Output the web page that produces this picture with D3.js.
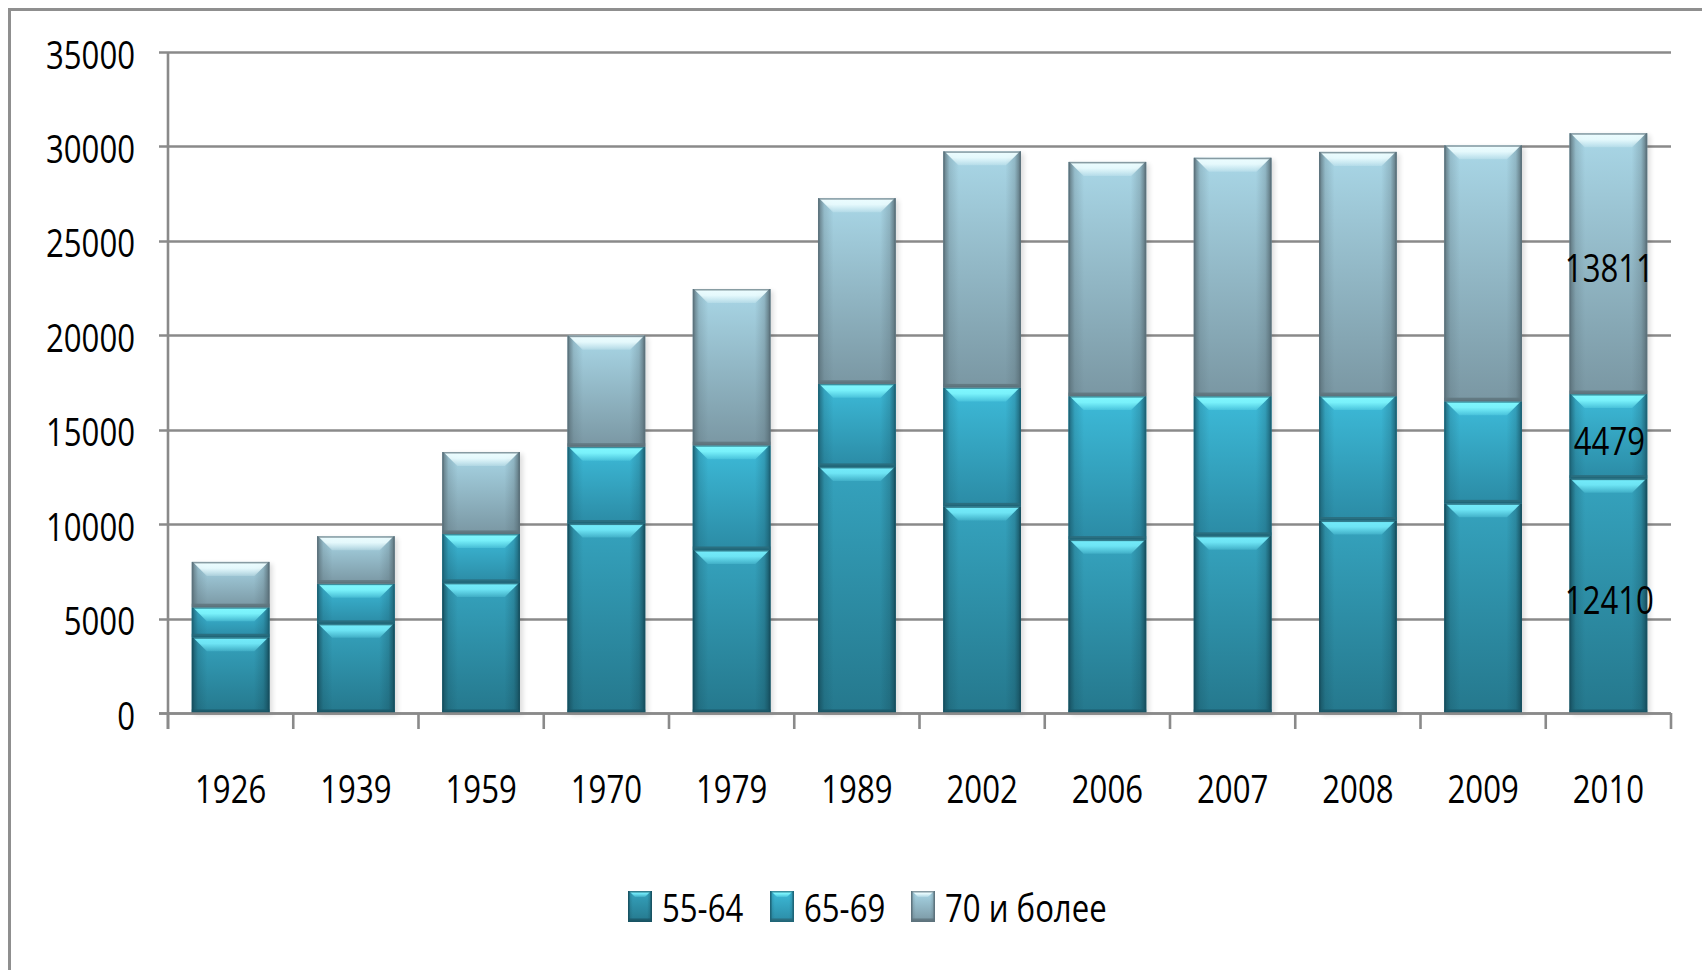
<!DOCTYPE html>
<html>
<head>
<meta charset="utf-8">
<script src="https://cdn.jsdelivr.net/npm/d3@7/dist/d3.min.js"></script>
<style>
  html, body { margin: 0; padding: 0; background: #ffffff; }
  svg { display: block; }
  text { font-family: "Open Sans", "Noto Sans", sans-serif; fill: #000; }
</style>
</head>
<body>
<svg id="chart" width="1702" height="970"></svg>
<script>
// Population by age group (thousands)
const years = ["1926", "1939", "1959", "1970", "1979", "1989", "2002", "2006", "2007", "2008", "2009", "2010"];
const age55to64 = [4010, 4720, 6890, 10030, 8630, 13030, 10940, 9180, 9380, 10190, 11100, 12410];
const age65to69 = [1590, 2130, 2590, 4070, 5550, 4400, 6300, 7600, 7400, 6590, 5410, 4479];
const age70plus = [2400, 2510, 4340, 5880, 8270, 9830, 12500, 12400, 12620, 12930, 13550, 13811];
const seriesNames = ["55-64", "65-69", "70 и более"];
const yTickValues = [0, 5000, 10000, 15000, 20000, 25000, 30000, 35000];
const labelledYear = "2010";

const W = 1702, H = 970;
const plot = { left: 168, right: 1671, top: 52, bottom: 713 };
const TEXT_SX = 0.82;   // narrow lettering
const FONT = 38;

const svg = d3.select("#chart");
svg.append("rect").attr("width", W).attr("height", H).attr("fill", "#fff");

// Visual styles for each age group: body gradient, bevel, edge
const palettes = [
  { top: "#35a3be", bottom: "#25788d", bevel: "#74ecfb", edge: "#17505f", line: "#1c5a6a" },
  { top: "#3dbbd9", bottom: "#2b8ba5", bevel: "#80f8ff", edge: "#1d6275", line: "#2a6b7c" },
  { top: "#a9d7e7", bottom: "#7a97a3", bevel: "#ecfdff", edge: "#5b717a", line: "#61777f" }
];

const defs = svg.append("defs");
palettes.forEach((p, i) => {
  const body = defs.append("linearGradient").attr("id", "body" + i)
    .attr("x1", 0).attr("y1", 0).attr("x2", 0).attr("y2", 1);
  body.append("stop").attr("offset", "0%").attr("stop-color", p.top);
  body.append("stop").attr("offset", "100%").attr("stop-color", p.bottom);

  const bev = defs.append("linearGradient").attr("id", "bevel" + i)
    .attr("x1", 0).attr("y1", 0).attr("x2", 0).attr("y2", 1);
  bev.append("stop").attr("offset", "0%").attr("stop-color", p.bevel).attr("stop-opacity", 1);
  bev.append("stop").attr("offset", "45%").attr("stop-color", p.bevel).attr("stop-opacity", 0.9);
  bev.append("stop").attr("offset", "100%").attr("stop-color", p.bevel).attr("stop-opacity", 0.2);

  const sides = defs.append("linearGradient").attr("id", "sides" + i)
    .attr("x1", 0).attr("y1", 0).attr("x2", 1).attr("y2", 0);
  sides.append("stop").attr("offset", "0%").attr("stop-color", p.edge).attr("stop-opacity", 0.95);
  sides.append("stop").attr("offset", "8%").attr("stop-color", p.edge).attr("stop-opacity", 0.25);
  sides.append("stop").attr("offset", "20%").attr("stop-color", p.edge).attr("stop-opacity", 0);
  sides.append("stop").attr("offset", "80%").attr("stop-color", p.edge).attr("stop-opacity", 0);
  sides.append("stop").attr("offset", "92%").attr("stop-color", p.edge).attr("stop-opacity", 0.3);
  sides.append("stop").attr("offset", "100%").attr("stop-color", p.edge).attr("stop-opacity", 1);
});
const shadowFilter = defs.append("filter").attr("id", "shadow")
  .attr("x", "-20%").attr("y", "-5%").attr("width", "140%").attr("height", "110%");
shadowFilter.append("feGaussianBlur").attr("stdDeviation", 2.5);

// Scales
const x = d3.scaleBand().domain(years).range([plot.left, plot.right])
  .paddingInner(0.38).paddingOuter(0.19);
const y = d3.scaleLinear().domain([0, 35000]).range([plot.bottom, plot.top]);

// Outer frame (left and top edges)
svg.append("path")
  .attr("d", `M9.5,${H} V9.5 H${W}`)
  .attr("fill", "none").attr("stroke", "#8f8f8f").attr("stroke-width", 3);

// Gridlines
svg.append("g").selectAll("line").data(yTickValues).join("line")
  .attr("x1", plot.left - 9).attr("x2", plot.right)
  .attr("y1", d => Math.round(y(d)) + 0.5).attr("y2", d => Math.round(y(d)) + 0.5)
  .attr("stroke", "#8a8a8a").attr("stroke-width", 2.6);

// Y axis labels
const yAxis = d3.axisLeft(y).tickValues(yTickValues).tickSize(0).tickFormat(d3.format("d"));
const yg = svg.append("g").attr("transform", `translate(${plot.left},0)`).call(yAxis);
yg.select(".domain").remove();
yg.selectAll("text")
  .attr("font-size", FONT).attr("font-family", "Open Sans, Noto Sans, sans-serif")
  .attr("fill", "#000")
  .attr("x", -33 / TEXT_SX).attr("dy", null).attr("y", 16)
  .attr("transform", `scale(${TEXT_SX},1)`);

// Stacked data
const rows = years.map((yr, i) => ({ year: yr, s0: age55to64[i], s1: age65to69[i], s2: age70plus[i] }));
const stack = d3.stack().keys(["s0", "s1", "s2"])(rows);

// Draw one bevelled box
function bevelBox(g, x0, y0, w, h, k, bevelDepth) {
  const b = Math.max(0, Math.min(bevelDepth, h / 2 - 1, w / 2));
  g.append("rect").attr("x", x0).attr("y", y0).attr("width", w).attr("height", h)
    .attr("fill", `url(#body${k})`);
  g.append("rect").attr("x", x0).attr("y", y0).attr("width", w).attr("height", h)
    .attr("fill", `url(#sides${k})`);
  if (b > 0) {
    g.append("polygon")
      .attr("points", [[x0 + 1, y0], [x0 + w - 1, y0], [x0 + w - 1 - b, y0 + b], [x0 + 1 + b, y0 + b]].map(p => p.join(",")).join(" "))
      .attr("fill", `url(#bevel${k})`);
  }
  const bh = Math.min(3.5, h / 4);
  g.append("rect").attr("x", x0).attr("y", y0 + h - bh).attr("width", w).attr("height", bh)
    .attr("fill", palettes[k].line).attr("opacity", 0.9);
  g.append("rect").attr("x", x0 + 0.75).attr("y", y0 + 0.75).attr("width", w - 1.5).attr("height", h - 1.5)
    .attr("fill", "none").attr("stroke", palettes[k].edge).attr("stroke-width", 1.5).attr("stroke-opacity", 0.7);
}

// Bar shadows
const totals = rows.map(r => r.s0 + r.s1 + r.s2);
svg.append("g").selectAll("rect").data(rows).join("rect")
  .attr("x", d => x(d.year) + 3).attr("y", (d, i) => y(totals[i]) + 2)
  .attr("width", x.bandwidth()).attr("height", (d, i) => y(0) - y(totals[i]))
  .attr("fill", "#000").attr("opacity", 0.13).attr("filter", "url(#shadow)");

// Bars
const barsG = svg.append("g");
stack.forEach((layer, k) => {
  layer.forEach((seg, i) => {
    const x0 = x(years[i]);
    const yTop = y(seg[1]);
    const h = y(seg[0]) - y(seg[1]);
    bevelBox(barsG.append("g"), x0, yTop, x.bandwidth(), h, k, 14);
  });
});

// Axis lines and ticks
svg.append("line").attr("x1", plot.left).attr("x2", plot.left)
  .attr("y1", plot.top).attr("y2", plot.bottom + 16)
  .attr("stroke", "#8a8a8a").attr("stroke-width", 2.6);
svg.append("line").attr("x1", plot.left - 9).attr("x2", plot.right)
  .attr("y1", plot.bottom + 0.5).attr("y2", plot.bottom + 0.5)
  .attr("stroke", "#8a8a8a").attr("stroke-width", 2.6);
const boundaries = d3.range(years.length + 1).map(i => plot.left + i * x.step());
svg.append("g").selectAll("line").data(boundaries).join("line")
  .attr("x1", d => d).attr("x2", d => d)
  .attr("y1", plot.bottom).attr("y2", plot.bottom + 16)
  .attr("stroke", "#8a8a8a").attr("stroke-width", 2.6);

// X labels
const xAxis = d3.axisBottom(x).tickSize(0);
const xg = svg.append("g").attr("transform", `translate(0,${plot.bottom})`).call(xAxis);
xg.select(".domain").remove();
xg.selectAll(".tick").each(function (d) {
  d3.select(this).attr("transform", `translate(${x(d) + x.bandwidth() / 2},0)`);
});
xg.selectAll("text")
  .attr("font-size", FONT).attr("font-family", "Open Sans, Noto Sans, sans-serif")
  .attr("fill", "#000")
  .attr("dy", null).attr("y", 90).attr("x", 0)
  .attr("transform", `scale(${TEXT_SX},1)`);

// Value labels on the last bar
const li = years.indexOf(labelledYear);
const labelG = svg.append("g");
stack.forEach((layer) => {
  const seg = layer[li];
  const cy = (y(seg[0]) + y(seg[1])) / 2;
  labelG.append("text")
    .attr("transform", `translate(${x(labelledYear) + x.bandwidth() / 2 + 1},${cy + 18.5}) scale(${TEXT_SX},1)`)
    .attr("text-anchor", "middle")
    .attr("font-size", FONT)
    .text(seg[1] - seg[0]);
});

// Legend
const legendX = [628, 770, 911];
const legend = svg.append("g");
seriesNames.forEach((name, k) => {
  const g = legend.append("g");
  bevelBox(g, legendX[k], 891, 24, 31, k, 6);
  g.append("text")
    .attr("transform", `translate(${legendX[k] + 34},922) scale(${TEXT_SX},1)`)
    .attr("font-size", FONT)
    .text(name);
});
</script>
</body>
</html>
